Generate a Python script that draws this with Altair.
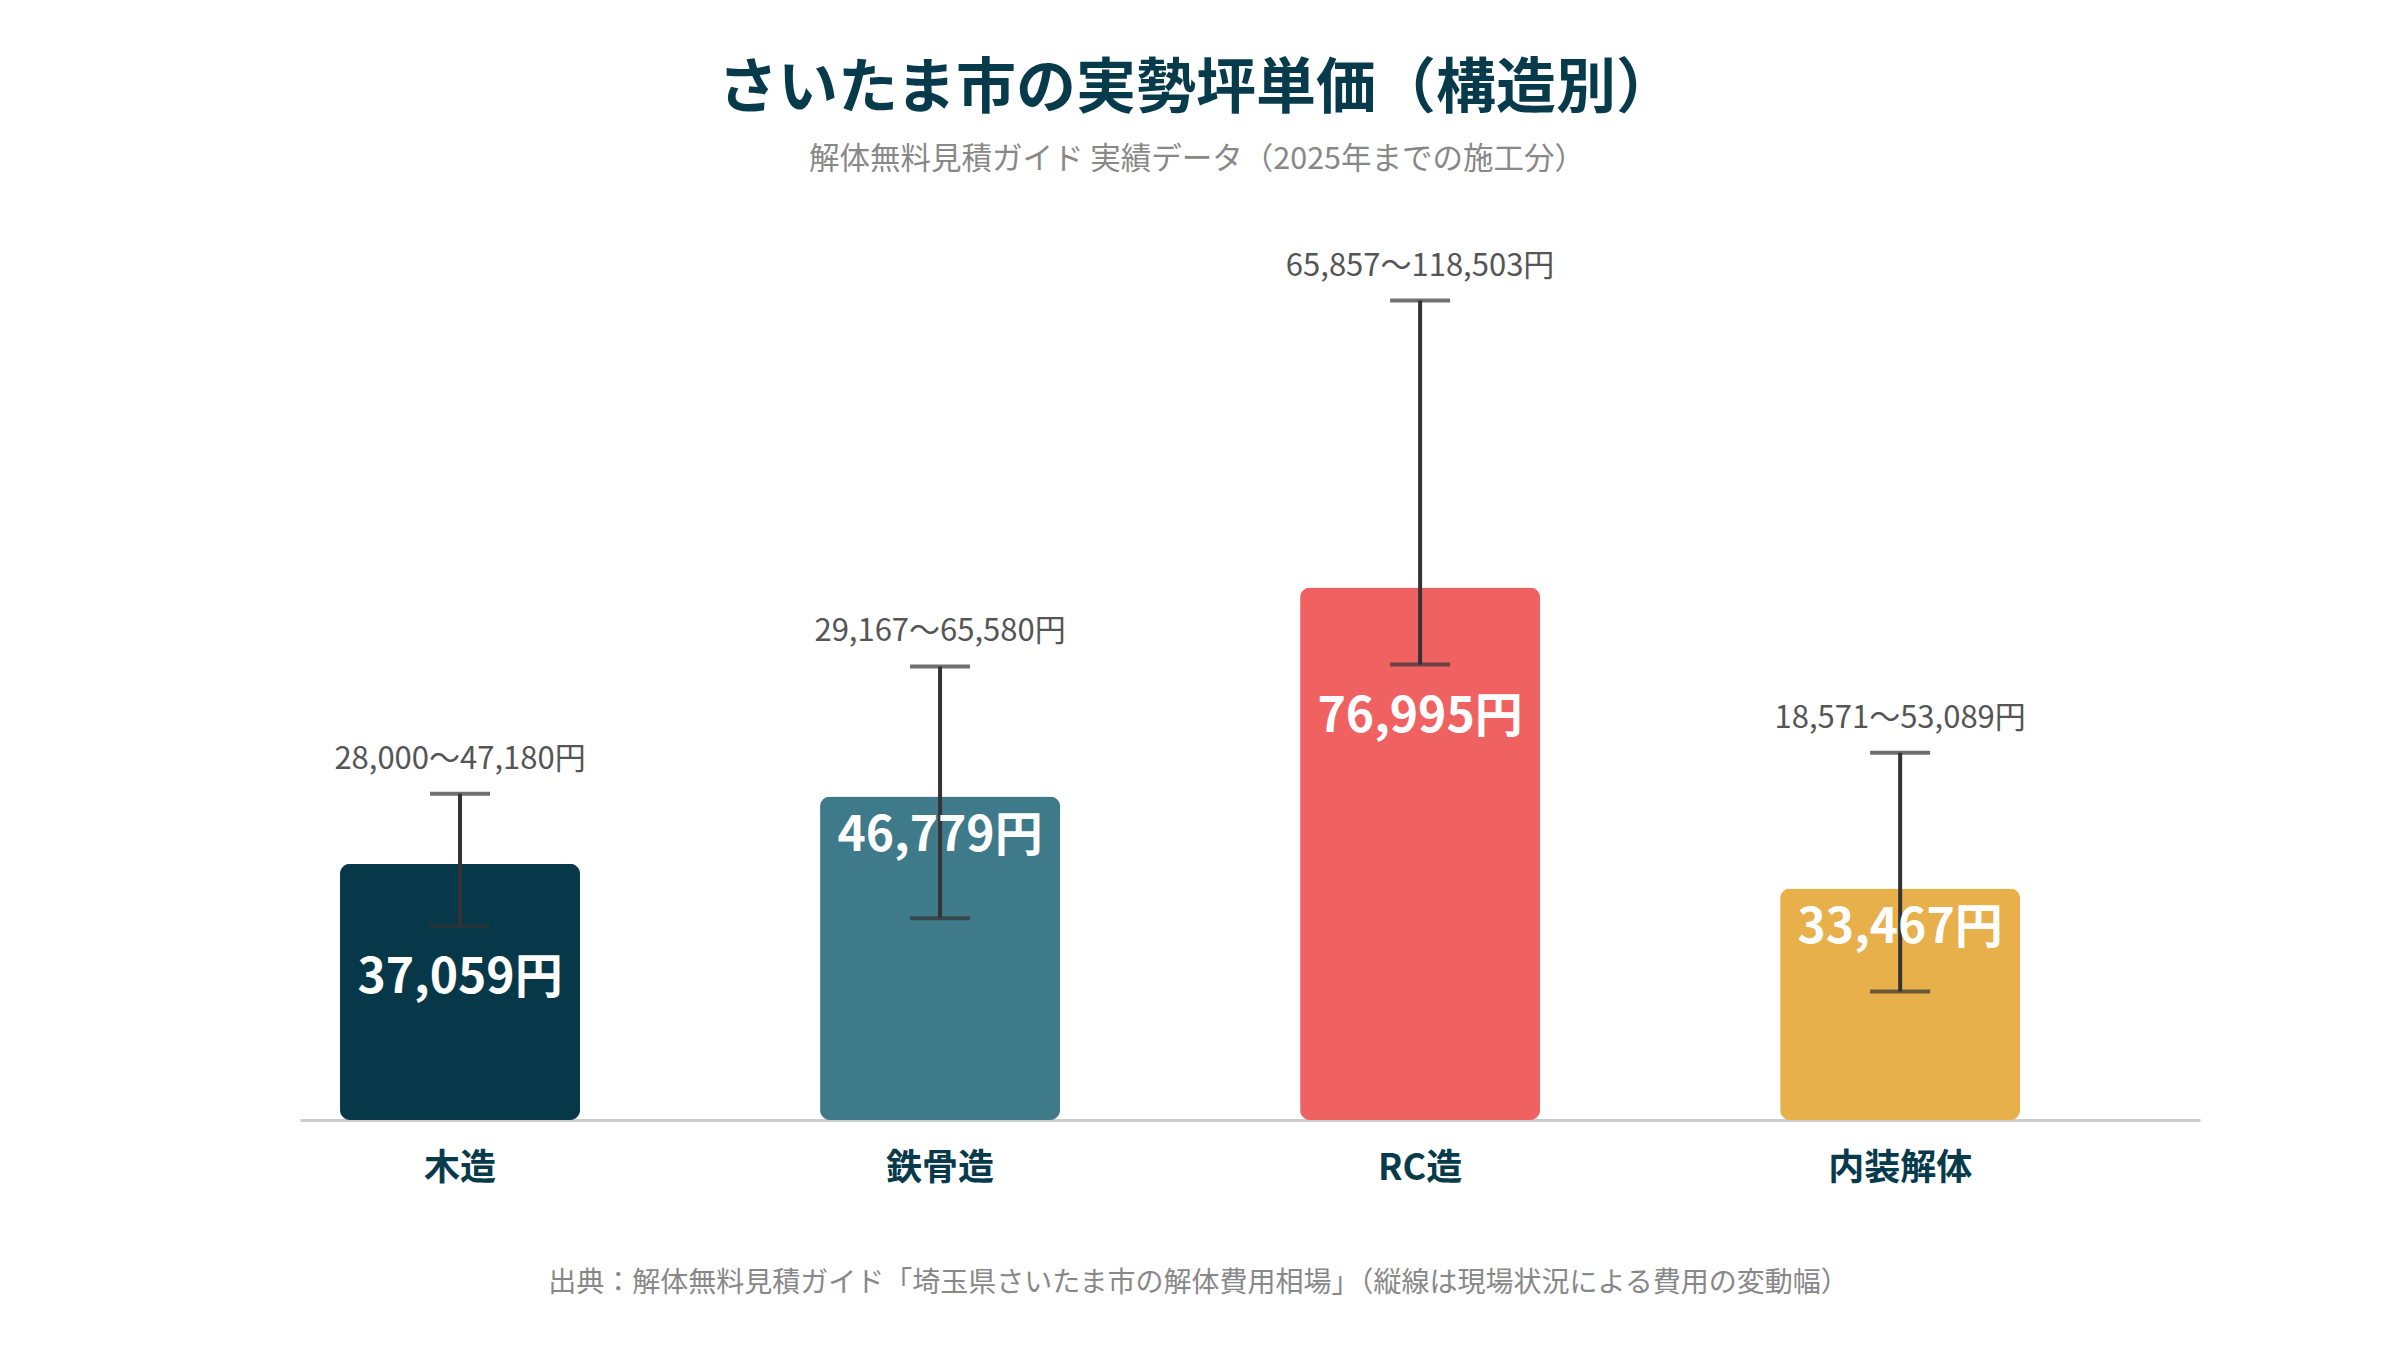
import altair as alt
import pandas as pd

categories = ["木造", "鉄骨造", "RC造", "内装解体"]
avg_price = [37059, 46779, 76995, 33467]
low_price = [28000, 29167, 65857, 18571]
high_price = [47180, 65580, 118503, 53089]
bar_colors = ["#06384A", "#3E7A8A", "#F06262", "#E7B04B"]

title_text = "さいたま市の実勢坪単価（構造別）"
subtitle_text = "解体無料見積ガイド 実績データ（2025年までの施工分）"
footer_text = "出典：解体無料見積ガイド「埼玉県さいたま市の解体費用相場」（縦線は現場状況による費用の変動幅）"

df = pd.DataFrame({
    "cat": categories,
    "avg": avg_price,
    "low": low_price,
    "high": high_price,
    "color": bar_colors,
})
df["avg_label"] = [f"{v:,}円" for v in avg_price]
df["range_label"] = [f"{a:,}〜{b:,}円" for a, b in zip(low_price, high_price)]

FONT = "Noto Sans CJK JP"
DARK = "#073B4C"

x_enc = alt.X(
    "cat:N",
    sort=categories,
    scale=alt.Scale(paddingInner=0.5, paddingOuter=0.229, align=0.182),
    axis=alt.Axis(
        title=footer_text,
        titleFont=FONT,
        titleFontSize=28,
        titleFontWeight="normal",
        titleColor="#888888",
        titleX=898,
        titleY=163,
        titleAlign="center",
        titleBaseline="middle",
        labelFont=FONT,
        labelFontSize=36,
        labelFontWeight="bold",
        labelColor=DARK,
        labelPadding=48,
        labelBaseline="middle",
        labelAngle=0,
        ticks=False,
        tickSize=0,
        domainColor="#CCCCCC",
        domainWidth=3,
    ),
)
y_scale = alt.Scale(domain=[0, 130000], nice=False)

base = alt.Chart(df).encode(x=x_enc)

bars = base.mark_bar(cornerRadius=10).encode(
    y=alt.Y("avg:Q", scale=y_scale, axis=None),
    color=alt.Color("color:N", scale=None, legend=None),
)
stem = base.mark_rule(color="#333333", strokeWidth=4).encode(
    y=alt.Y("low:Q", scale=y_scale), y2="high:Q"
)
cap_hi = base.mark_tick(color="#333333", thickness=4, size=60).encode(
    y=alt.Y("high:Q", scale=y_scale)
)
cap_lo = base.mark_tick(color="#333333", thickness=4, size=60).encode(
    y=alt.Y("low:Q", scale=y_scale)
)
range_text = base.mark_text(
    font=FONT, fontSize=31, color="#555555", dy=-34, baseline="middle"
).encode(y=alt.Y("high:Q", scale=y_scale), text="range_label:N")

val_top = base.transform_filter("datum.avg - datum.low >= 13000").mark_text(
    font=FONT, fontSize=48, fontWeight="bold", color="white", dy=40, baseline="middle"
).encode(y=alt.Y("avg:Q", scale=y_scale), text="avg_label:N")
val_low = base.transform_filter("datum.avg - datum.low < 13000").mark_text(
    font=FONT, fontSize=48, fontWeight="bold", color="white", dy=53, baseline="middle"
).encode(y=alt.Y("low:Q", scale=y_scale), text="avg_label:N")

chart = alt.layer(bars, stem, cap_hi, cap_lo, range_text, val_top, val_low).properties(
    width=1900,
    height=899,
    background="white",
    autosize=alt.AutoSizeParams(type="none"),
    padding={"left": 292, "top": 213, "right": 192, "bottom": 222},
    title=alt.TitleParams(
        text=title_text,
        subtitle=subtitle_text,
        font=FONT,
        fontSize=60,
        fontWeight="bold",
        color=DARK,
        subtitleFont=FONT,
        subtitleFontSize=30.5,
        subtitleColor="#888888",
        anchor="middle",
        frame="group",
        dx=-53,
        offset=45,
        subtitlePadding=24,
    ),
).configure_view(stroke=None, strokeWidth=0)

chart.save("out.html", embed_options={"renderer": "svg", "actions": False})
